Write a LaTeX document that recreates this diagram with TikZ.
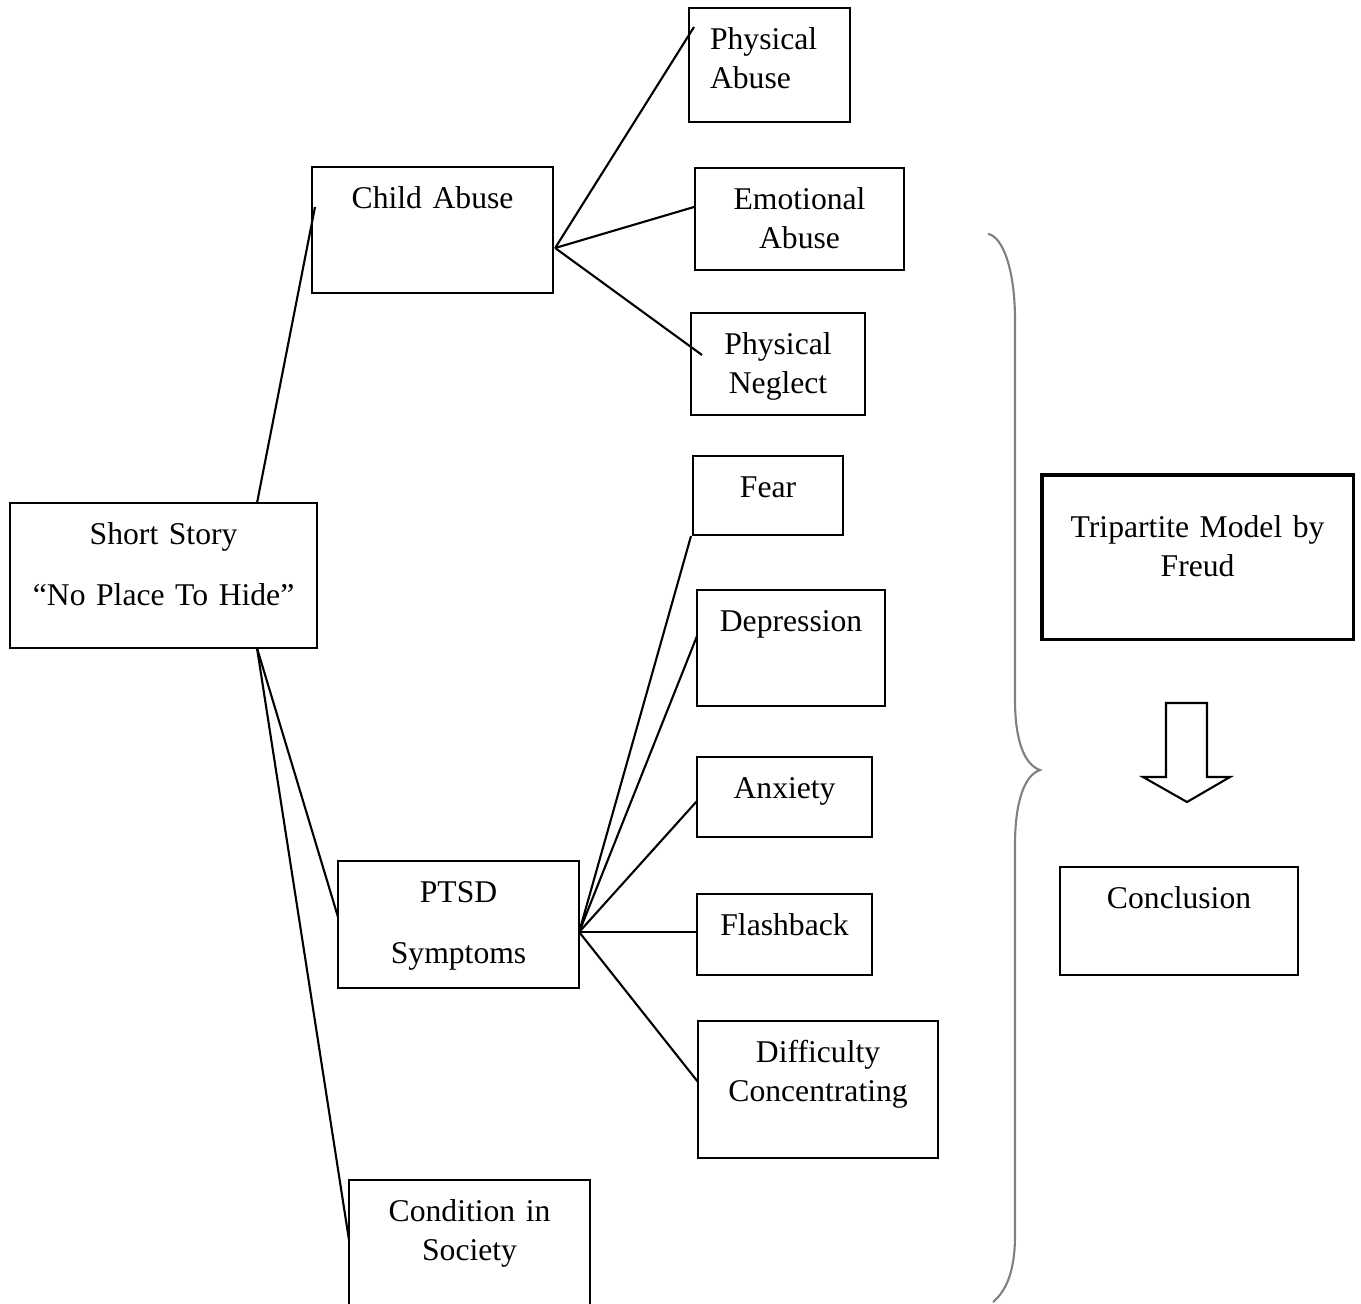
\documentclass[tikz,border=0pt]{standalone}
\usepackage{fontspec}
\setmainfont{Liberation Serif}
\usetikzlibrary{calc,positioning}

\tikzset{
  cell/.style={draw, line width=0.6pt, anchor=north west, inner sep=0pt, outer sep=0pt,
    align=center, text height=0.41cm, font=\fontsize{9}{11.2}\selectfont},
  link/.style={line width=0.6pt},
  bracket/.style={draw=gray, line width=0.6pt}
}

\begin{document}
\begin{tikzpicture}[x=0.01cm,y=-0.01cm]
\useasboundingbox (0,0) rectangle (1361,1303);
\clip (0,0) rectangle (1361,1303);

% main story and its three branches
\node[cell, text width=3.07cm, text depth=1.04cm] (story) at (10,503) {Short Story\\[6.4pt]“No Place To Hide”};
\node[cell, text width=2.41cm, text depth=0.85cm] (abuse) at (312,167) {Child Abuse};
\node[cell, text width=2.41cm, text depth=0.86cm] (ptsd) at (338,861) {PTSD\\[6.4pt]Symptoms};
\node[cell, text width=2.41cm, text depth=1.05cm] (society) at (349,1180) {Condition in\\Society};

% kinds of abuse
\node[cell, align=left, inner xsep=0.21cm, text width=1.19cm, text depth=0.73cm] (physab) at (689,8) {Physical\\Abuse};
\node[cell, text width=2.09cm, text depth=0.61cm] (emoab) at (695,168) {Emotional\\Abuse};
\node[cell, text width=1.74cm, text depth=0.61cm] (neglect) at (691,313) {Physical\\Neglect};

% symptoms
\node[cell, text width=1.50cm, text depth=0.38cm] (fear) at (693,456) {Fear};
\node[cell, text width=1.88cm, text depth=0.75cm] (depress) at (697,590) {Depression};
\node[cell, text width=1.75cm, text depth=0.39cm] (anxiety) at (697,757) {Anxiety};
\node[cell, text width=1.75cm, text depth=0.40cm] (flash) at (697,894) {Flashback};
\node[cell, text width=2.40cm, text depth=0.96cm] (concen) at (698,1021) {Difficulty\\Concentrating};

% right side
\node[cell, line width=0.9pt, text width=3.11cm, text height=0.62cm, text depth=1.02cm] (freud) at (1042,475) {Tripartite Model by\\Freud};
\node[cell, text width=2.38cm, text depth=0.67cm] (concl) at (1060,867) {Conclusion};

\draw[link] ($(story.north west)+(247,0)$) -- ($(abuse.north west)+(3,40)$);
\draw[link] ($(story.south west)+(247,0)$) -- ($(ptsd.north west)+(0,56)$);
\draw[link] ($(story.south west)+(247,0)$) -- ($(society.north west)+(0,60)$);

\draw[link] ($(abuse.north east)+(2,81)$) -- ($(physab.north west)+(5,19)$);
\draw[link] ($(abuse.north east)+(2,81)$) -- ($(emoab.north west)+(-1,39)$);
\draw[link] ($(abuse.north east)+(2,81)$) -- ($(neglect.north west)+(11,42)$);

\draw[link] ($(ptsd.north east)+(0,71)$) -- ($(fear.south west)+(-2,1)$);
\draw[link] ($(ptsd.north east)+(0,71)$) -- ($(depress.north west)+(0,46)$);
\draw[link] ($(ptsd.north east)+(0,71)$) -- ($(anxiety.north west)+(0,44)$);
\draw[link] ($(ptsd.north east)+(0,71)$) -- ($(flash.north west)+(0,38)$);
\draw[link] ($(ptsd.north east)+(0,71)$) -- ($(concen.north west)+(0,61)$);

% brace
\draw[bracket] (988,234) .. controls (1002,236) and (1015,268) .. (1015,320)
  -- (1015,700) .. controls (1015,742) and (1025,765) .. (1040,770)
  .. controls (1025,775) and (1015,800) .. (1015,845)
  -- (1015,1235) .. controls (1015,1270) and (1007,1290) .. (993,1302);

% block arrow
\draw[line width=0.6pt] (1166,703) -- (1207,703) -- (1207,777) -- (1230,777) -- (1187,802)
  -- (1143,777) -- (1166,777) -- cycle;

\end{tikzpicture}
\end{document}
